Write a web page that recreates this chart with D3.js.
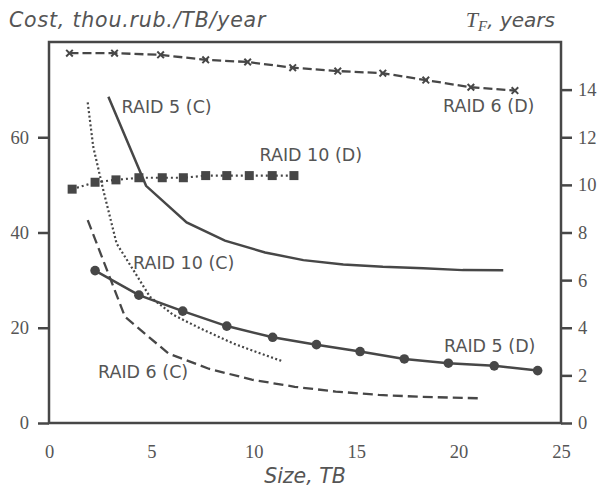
<!DOCTYPE html>
<html><head><meta charset="utf-8">
<script src="https://cdn.jsdelivr.net/npm/d3@7"></script>
<style>
body{margin:0;background:#fff;}
svg{display:block;}
</style></head>
<body>
<script>
// ---- data ----
const xTicks = [0,5,10,15,20,25];
const leftTicks = [0,20,40,60];
const rightTicks = [0,2,4,6,8,10,12,14];

const raid6D_x = [1.0,3.2,5.45,7.65,9.7,11.9,14.1,16.3,18.4,20.6,22.75];
const raid6D_y = [15.53,15.53,15.46,15.25,15.16,14.92,14.78,14.69,14.40,14.10,13.96];

const raid10D_x = [1.13,2.25,3.27,4.39,5.53,6.56,7.65,8.68,9.78,10.9,11.96];
const raid10D_y = [9.82,10.11,10.21,10.30,10.30,10.30,10.39,10.39,10.39,10.39,10.39];

const raid5D_x = [2.25,4.39,6.53,8.68,10.92,13.06,15.19,17.35,19.50,21.74,23.86];
const raid5D_y = [6.40,5.37,4.70,4.07,3.60,3.29,3.00,2.69,2.51,2.40,2.20];

const raid5C_x = [2.9,4.74,6.72,8.59,10.55,12.42,14.37,16.3,18.28,20.2,22.18];
const raid5C_y = [68.5,49.8,42.1,38.3,35.8,34.2,33.3,32.8,32.5,32.1,32.06];

const raid10C_x = [1.89,2.16,2.65,3.3,4.12,4.93,6.07,7.37,9.0,10.2,11.44];
const raid10C_y = [67.3,58.0,48.9,37.7,32.1,26.5,22.7,19.9,16.7,14.8,12.9];

const raid6C_x = [1.89,3.71,5.83,7.8,9.9,12.0,14.0,16.1,18.1,21.13];
const raid6C_y = [42.6,22.3,14.6,11.4,9.1,7.6,6.6,5.9,5.5,5.18];

const labels = [
  {t:"RAID 5 (C)", x:121.5, y:113},
  {t:"RAID 10 (D)", x:259.5, y:161},
  {t:"RAID 10 (C)", x:133, y:269},
  {t:"RAID 6 (C)", x:98, y:378},
  {t:"RAID 5 (D)", x:444, y:352},
  {t:"RAID 6 (D)", x:443, y:112}
];

// ---- layout ----
const W=604,H=491;
const m={l:49,r:561,t:42,b:423};
const col="#474747", tcol="#555";
const svg=d3.select("body").append("svg").attr("width",W).attr("height",H);

const x=d3.scaleLinear().domain([0,25]).range([m.l,m.r]);
const yL=d3.scaleLinear().domain([0,80]).range([m.b,m.t]);
const yR=d3.scaleLinear().domain([0,16]).range([m.b,m.t]);

const serif="'Liberation Serif','DejaVu Serif',serif";
const sans="'DejaVu Sans',sans-serif";

// axes
const gL=svg.append("g").attr("transform",`translate(${m.l},0)`)
  .call(d3.axisLeft(yL).tickValues(leftTicks).tickSize(11).tickPadding(9).tickFormat(d3.format("d")));
const gR=svg.append("g").attr("transform",`translate(${m.r},0)`)
  .call(d3.axisRight(yR).tickValues(rightTicks).tickSize(11).tickPadding(6).tickFormat(d3.format("d")));
const gB=svg.append("g").attr("transform",`translate(0,${m.b})`)
  .call(d3.axisBottom(x).tickValues(xTicks).tickSize(0).tickPadding(22).tickFormat(d3.format("d")));
[gL,gR,gB].forEach(g=>{
  g.select(".domain").remove();
  g.selectAll(".tick line").attr("stroke",col).attr("stroke-width",2.5);
  g.selectAll(".tick text").attr("fill",tcol).attr("font-family",serif).attr("font-size",18.5);
});

// frame
svg.append("rect").attr("x",m.l).attr("y",m.t).attr("width",m.r-m.l).attr("height",m.b-m.t)
  .attr("fill","none").attr("stroke",col).attr("stroke-width",2.5);

function series(xs,ys){return xs.map((v,i)=>({x:v,y:ys[i]}));}
const lineL=d3.line().x(d=>x(d.x)).y(d=>yL(d.y));
const lineR=d3.line().x(d=>x(d.x)).y(d=>yR(d.y));

const plot=svg.append("g");
// C curves (left axis)
plot.append("path").datum(series(raid5C_x,raid5C_y)).attr("d",lineL)
  .attr("fill","none").attr("stroke",col).attr("stroke-width",2.5);
plot.append("path").datum(series(raid10C_x,raid10C_y)).attr("d",lineL)
  .attr("fill","none").attr("stroke",col).attr("stroke-width",2.2).attr("stroke-dasharray","2,2.4");
plot.append("path").datum(series(raid6C_x,raid6C_y)).attr("d",lineL)
  .attr("fill","none").attr("stroke",col).attr("stroke-width",2.3).attr("stroke-dasharray","10,5");

// D curves (right axis)
const d6=series(raid6D_x,raid6D_y);
plot.append("path").datum(d6).attr("d",lineR)
  .attr("fill","none").attr("stroke",col).attr("stroke-width",2.3).attr("stroke-dasharray","9,4");
plot.selectAll(".xm").data(d6).enter().append("path")
  .attr("d",d=>{const cx=x(d.x),cy=yR(d.y),s=3.3;return `M${cx-s},${cy-s}L${cx+s},${cy+s}M${cx-s},${cy+s}L${cx+s},${cy-s}`;})
  .attr("stroke",col).attr("stroke-width",2);

const d10=series(raid10D_x,raid10D_y);
plot.append("path").datum(d10).attr("d",lineR)
  .attr("fill","none").attr("stroke",col).attr("stroke-width",2.2).attr("stroke-dasharray","2,3");
plot.selectAll(".sq").data(d10).enter().append("rect")
  .attr("x",d=>x(d.x)-4.5).attr("y",d=>yR(d.y)-4.5).attr("width",9).attr("height",9).attr("fill",col);

const d5=series(raid5D_x,raid5D_y);
plot.append("path").datum(d5).attr("d",lineR)
  .attr("fill","none").attr("stroke",col).attr("stroke-width",2.5);
plot.selectAll(".ci").data(d5).enter().append("circle")
  .attr("cx",d=>x(d.x)).attr("cy",d=>yR(d.y)).attr("r",4.8).attr("fill",col);

// labels
svg.selectAll(".lab").data(labels).enter().append("text")
  .attr("x",d=>d.x).attr("y",d=>d.y).text(d=>d.t)
  .attr("font-family",sans).attr("font-size",17.5).attr("fill",tcol);

// axis titles
svg.append("text").attr("x",9).attr("y",27).text("Cost, thou.rub./TB/year")
  .attr("font-family",sans).attr("font-style","italic").attr("font-size",20.5)
  .attr("letter-spacing",0.8).attr("fill",tcol);
const tf=svg.append("text").attr("x",555).attr("y",27).attr("text-anchor","end")
  .attr("fill",tcol).attr("font-size",20);
tf.append("tspan").attr("font-family",serif).attr("font-style","italic").attr("font-size",22).text("T");
tf.append("tspan").attr("font-family",serif).attr("font-style","italic").attr("font-size",15).attr("dy",4).text("F");
tf.append("tspan").attr("font-family",sans).attr("font-style","italic").attr("dy",-4).text(", years");
svg.append("text").attr("x",305).attr("y",483).attr("text-anchor","middle").text("Size, TB")
  .attr("font-family",sans).attr("font-style","italic").attr("font-size",20.5).attr("fill",tcol);
</script>
</body></html>
